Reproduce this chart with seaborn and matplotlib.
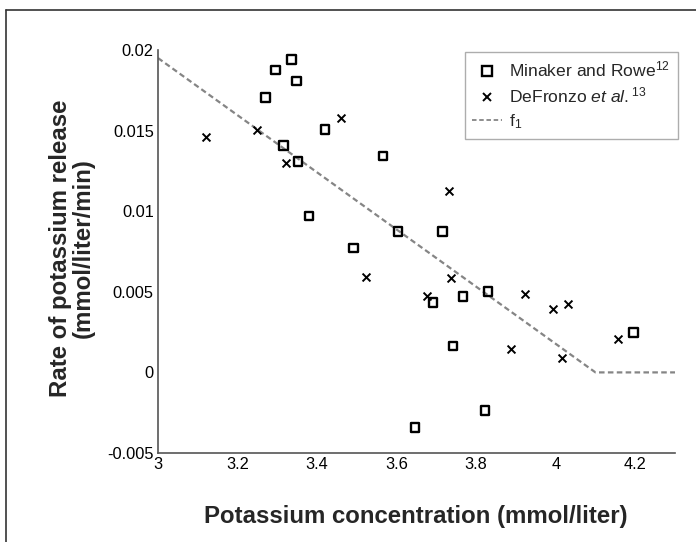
import matplotlib
matplotlib.use("Agg")
import matplotlib.pyplot as plt
import seaborn as sns
import pandas as pd
from matplotlib.lines import Line2D

# Data
mr_x = [3.270, 3.295, 3.335, 3.348, 3.315, 3.352, 3.420, 3.380, 3.566, 3.492, 3.603,
        3.716, 3.691, 3.767, 3.830, 3.742, 4.196, 3.822, 3.646]
mr_y = [0.01707, 0.01876, 0.01942, 0.01808, 0.01406, 0.01307, 0.01508, 0.00970, 0.01342,
        0.00772, 0.00873, 0.00873, 0.00435, 0.00470, 0.00501, 0.00164, 0.00249, -0.00238, -0.00341]
df_x = [3.121, 3.249, 3.321, 3.460, 3.523, 3.731, 3.737, 3.677, 3.923, 3.994, 4.030,
        3.887, 4.017, 4.156]
df_y = [0.01462, 0.01504, 0.01297, 0.01576, 0.00594, 0.01125, 0.00584, 0.00476, 0.00486,
        0.00393, 0.00424, 0.00143, 0.00091, 0.00207]
f1_x = [3.0, 4.1, 4.3]
f1_y = [0.0195, 0.0, 0.0]

x_ticks = [3.0, 3.2, 3.4, 3.6, 3.8, 4.0, 4.2]
x_ticklabels = ["3", "3.2", "3.4", "3.6", "3.8", "4", "4.2"]
y_ticks = [-0.005, 0.0, 0.005, 0.01, 0.015, 0.02]
y_ticklabels = ["-0.005", "0", "0.005", "0.01", "0.015", "0.02"]

label_mr = r"Minaker and Rowe$^{12}$"
label_df = r"DeFronzo $\mathit{et\ al.}^{13}$"
label_f1 = r"f$_1$"

sns.set_style("white")
plt.rcParams["font.family"] = ["Liberation Sans", "DejaVu Sans"]
plt.rcParams["mathtext.fontset"] = "custom"
plt.rcParams["mathtext.rm"] = "Liberation Sans"
plt.rcParams["mathtext.it"] = "Liberation Sans:italic"
plt.rcParams["mathtext.bf"] = "Liberation Sans:bold"

fig = plt.figure(figsize=(6.96, 5.42), dpi=100)
ax = fig.add_axes([158/696, 1-453/542, (675-158)/696, (453-50)/542])

mr = pd.DataFrame({"x": mr_x, "y": mr_y})
dfz = pd.DataFrame({"x": df_x, "y": df_y})
f1 = pd.DataFrame({"x": f1_x, "y": f1_y})

sns.lineplot(data=f1, x="x", y="y", ax=ax, color="#858585", linewidth=1.6,
             linestyle=(0, (2.5, 1.5)), zorder=1)
sns.scatterplot(data=mr, x="x", y="y", ax=ax, marker="s", s=38, facecolors="none",
                edgecolor="black", linewidth=1.7, zorder=3)
sns.scatterplot(data=dfz, x="x", y="y", ax=ax, marker="x", s=32, color="black",
                linewidth=1.4, zorder=3)

ax.set_xlim(3.0, 4.3)
ax.set_ylim(-0.005, 0.02)
ax.set_xticks(x_ticks)
ax.set_xticklabels(x_ticklabels)
ax.set_yticks(y_ticks)
ax.set_yticklabels(y_ticklabels)
ax.tick_params(direction="in", length=4, width=0.8, labelsize=11.8, colors="#222222",
               labelcolor="black", pad=3)
for s in ["top", "right"]:
    ax.spines[s].set_visible(False)
for s in ["left", "bottom"]:
    ax.spines[s].set_color("#555555")
    ax.spines[s].set_linewidth(1.2)

ax.set_xlabel("Potassium concentration (mmol/liter)", fontsize=17.3, fontweight="bold")
ax.set_ylabel("Rate of potassium release\n(mmol/liter/min)", fontsize=17.3,
              fontweight="bold", linespacing=1.0)
ax.xaxis.set_label_coords(0.498, -0.129)
ax.yaxis.set_label_coords(-0.122, 0.509)

handles = [
    Line2D([], [], marker="s", linestyle="none", markerfacecolor="none",
           markeredgecolor="black", markeredgewidth=1.7, markersize=6.5),
    Line2D([], [], marker="x", linestyle="none", color="black",
           markeredgewidth=1.4, markersize=5.5),
    Line2D([], [], color="#858585", linewidth=1.3, linestyle=(0, (2.5, 1.5))),
]
leg = ax.legend(handles, [label_mr, label_df, label_f1], loc="upper right",
                bbox_to_anchor=(1.006, 0.995), fontsize=12.6, frameon=True,
                fancybox=False, edgecolor="#999999", handlelength=1.7,
                borderpad=0.45, labelspacing=0.35, handletextpad=0.4,
                borderaxespad=0.0)
leg.get_frame().set_linewidth(1.0)

# figure frame (top and left border)
fig.add_artist(Line2D([6/696, 1], [1-10/542, 1-10/542], transform=fig.transFigure,
                      color="#333333", linewidth=1.2))
fig.add_artist(Line2D([6/696, 6/696], [0, 1-10/542], transform=fig.transFigure,
                      color="#333333", linewidth=1.2))

fig.savefig("out.png", dpi=100)
